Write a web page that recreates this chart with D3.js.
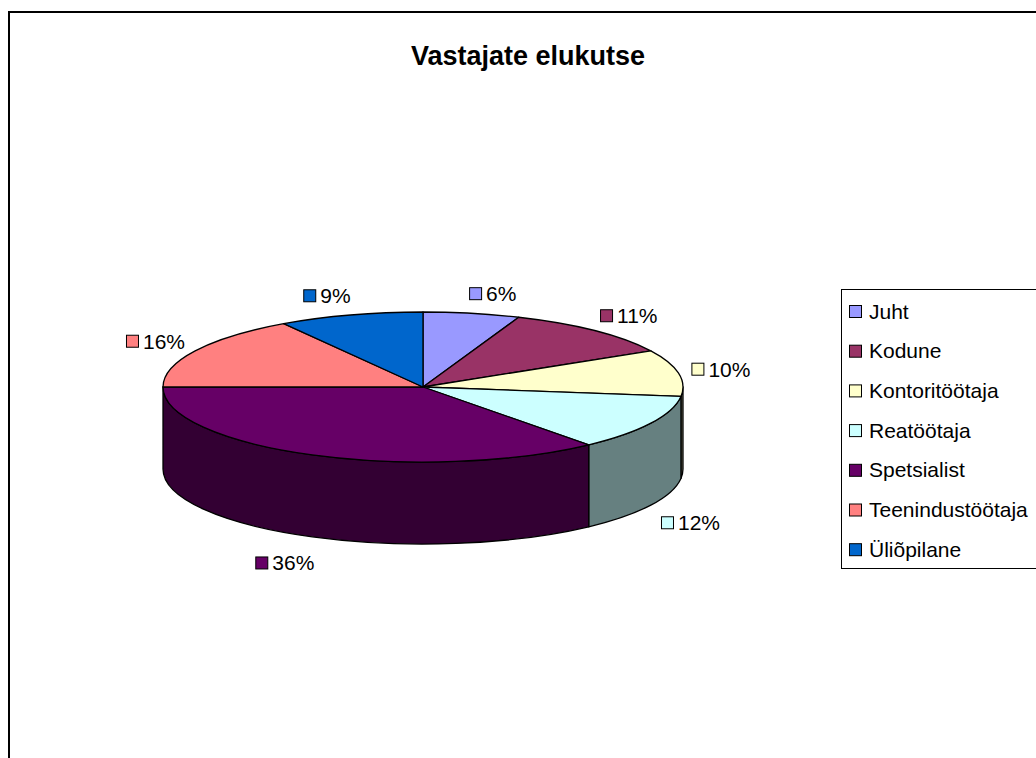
<!DOCTYPE html>
<html>
<head>
<meta charset="utf-8">
<script src="https://cdn.jsdelivr.net/npm/d3@7"></script>
<style>
  body { margin: 0; background: #fff; }
  text { font-family: "Liberation Sans", Arial, sans-serif; }
</style>
</head>
<body>
<svg id="chart" width="1036" height="758"></svg>
<script>
const categories = ["Juht", "Kodune", "Kontoritöötaja", "Reatöötaja", "Spetsialist", "Teenindustöötaja", "Üliõpilane"];
const values = [6, 11, 10, 12, 36, 16, 9];
const colors = ["#9999FF", "#993366", "#FFFFCC", "#CCFFFF", "#660066", "#FF8080", "#0066CC"];
const title = "Vastajate elukutse";

const width = 1036;
const height = 758;

const svg = d3.select("#chart");

// chart frame (runs off the right and bottom edge)
svg.append("rect")
  .attr("x", 9)
  .attr("y", 12)
  .attr("width", 1045)
  .attr("height", 770)
  .attr("fill", "#fff")
  .attr("stroke", "#000")
  .attr("stroke-width", 2);

svg.append("text")
  .attr("x", 528)
  .attr("y", 65)
  .attr("text-anchor", "middle")
  .attr("font-size", 27)
  .attr("font-weight", "bold")
  .text(title);

// 3D pie geometry
const cx = 423, cy = 387;
const rx = 260, ry = 75;
const depth = 82;

const pie = d3.pie().sort(null).value(d => d)(values);

const pt = (a, dy = 0) => [cx + rx * Math.sin(a), cy - ry * Math.cos(a) + dy];

// side walls use half-brightness colours like Excel
const shade = c => {
  const col = d3.rgb(c);
  return d3.rgb(col.r / 2, col.g / 2, col.b / 2).formatHex();
};

const pieG = svg.append("g");

// side walls first (only the front half is visible)
pie.forEach((d, i) => {
  const s = Math.max(d.startAngle, Math.PI / 2);
  const e = Math.min(d.endAngle, 3 * Math.PI / 2);
  if (e <= s) return;
  const path = `M${pt(s)}A${rx},${ry} 0 0 1 ${pt(e)}L${pt(e, depth)}A${rx},${ry} 0 0 0 ${pt(s, depth)}Z`;
  pieG.append("path")
    .attr("d", path)
    .attr("fill", shade(colors[i]))
    .attr("stroke", "#000")
    .attr("stroke-width", 1.3)
    .attr("stroke-linejoin", "round");
});

// top faces
pie.forEach((d, i) => {
  const large = d.endAngle - d.startAngle > Math.PI ? 1 : 0;
  const path = `M${cx},${cy}L${pt(d.startAngle)}A${rx},${ry} 0 ${large} 1 ${pt(d.endAngle)}Z`;
  pieG.append("path")
    .attr("d", path)
    .attr("fill", colors[i])
    .attr("stroke", "#000")
    .attr("stroke-width", 1.3)
    .attr("stroke-linejoin", "round");
});

// data labels: key square + percent, placed outside the slice's mid angle
pie.forEach((d, i) => {
  const mid = (d.startAngle + d.endAngle) / 2;
  const sx = Math.sin(mid), cyos = Math.cos(mid);
  const lx = cx + 287 * sx + 16 * Math.sign(sx);
  const ly = cy - 95 * cyos + (cyos < 0 ? depth + 8 : 0);

  const g = svg.append("g");
  const t = g.append("text")
    .attr("font-size", 21)
    .attr("y", 7.5)
    .text(values[i] + "%");
  const tw = t.node().getComputedTextLength();
  const w = 12 + 5 + tw;
  t.attr("x", -w / 2 + 17);
  g.append("rect")
    .attr("x", -w / 2 + 0.5)
    .attr("y", -6)
    .attr("width", 12)
    .attr("height", 12)
    .attr("fill", colors[i])
    .attr("stroke", "#000")
    .attr("stroke-width", 1);
  g.attr("transform", `translate(${lx},${ly})`);
});

// legend
const legend = svg.append("g").attr("transform", "translate(841, 289)");
legend.append("rect")
  .attr("x", 0.5)
  .attr("y", 0.5)
  .attr("width", 230)
  .attr("height", 279)
  .attr("fill", "#fff")
  .attr("stroke", "#000")
  .attr("stroke-width", 1);

const items = legend.selectAll("g.item")
  .data(categories)
  .enter().append("g")
  .attr("class", "item")
  .attr("transform", (d, i) => `translate(0, ${22 + i * 39.7})`);

items.append("rect")
  .attr("x", 8.5)
  .attr("y", -5.5)
  .attr("width", 12)
  .attr("height", 12)
  .attr("fill", (d, i) => colors[i])
  .attr("stroke", "#000")
  .attr("stroke-width", 1);

items.append("text")
  .attr("x", 28)
  .attr("y", 7.5)
  .attr("font-size", 21)
  .text(d => d);
</script>
</body>
</html>
